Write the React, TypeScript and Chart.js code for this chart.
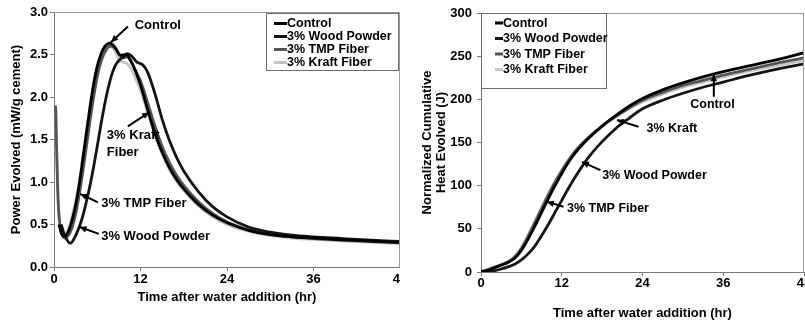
import React, { useEffect, useRef } from "react";
import { Chart, registerables } from "chart.js";
Chart.register(...registerables);

const SERIES_NAMES = ["Control", "3% Wood Powder", "3% TMP Fiber", "3% Kraft Fiber"];
const SERIES_COLORS = ["#000000", "#141414", "#555555", "#c6c6c6"];
const X_TICKS = [0, 12, 24, 36, 48];
const POWER_TICKS = [0, 0.5, 1.0, 1.5, 2.0, 2.5, 3.0];
const HEAT_TICKS = [0, 50, 100, 150, 200, 250, 300];

// Left chart: power evolved (mW/g cement) vs time (hr), [t, value] pairs
const powerControl: [number, number][] = [[0.7,0.5],[1.0,0.4],[1.4,0.36],[2.0,0.42],[2.5,0.55],[3.0,0.73],[3.5,0.97],[4.0,1.27],[4.5,1.58],[5.0,1.88],[5.5,2.15],[6.0,2.36],[6.5,2.5],[7.0,2.59],[7.8,2.635],[8.5,2.58],[9.2,2.49],[10.0,2.5],[10.7,2.42],[11.5,2.26],[12.0,2.14],[13.0,1.85],[14.0,1.57],[15.0,1.35],[16.0,1.17],[17.0,1.03],[18.0,0.92],[20.0,0.74],[22.0,0.61],[24.0,0.52],[27.0,0.43],[30.0,0.38],[33.0,0.355],[36.0,0.34],[40.0,0.32],[44.0,0.305],[48.0,0.29]];
const powerWood: [number, number][] = [[1.0,0.5],[1.5,0.37],[2.3,0.28],[3.0,0.37],[3.5,0.47],[4.0,0.6],[4.5,0.77],[5.0,0.96],[5.5,1.18],[6.0,1.42],[6.5,1.67],[7.0,1.9],[7.5,2.1],[8.0,2.26],[8.5,2.37],[9.0,2.43],[9.6,2.47],[10.2,2.51],[10.8,2.48],[11.5,2.41],[12.3,2.38],[13.0,2.29],[14.0,2.04],[15.0,1.74],[16.0,1.49],[17.0,1.29],[18.0,1.13],[20.0,0.89],[22.0,0.71],[24.0,0.59],[27.0,0.47],[30.0,0.41],[33.0,0.375],[36.0,0.355],[40.0,0.335],[44.0,0.315],[48.0,0.3]];
const powerTMP: [number, number][] = [[0.15,1.9],[0.25,1.85],[0.35,1.45],[0.5,0.95],[0.7,0.6],[1.0,0.42],[1.5,0.34],[2.0,0.37],[2.5,0.46],[3.0,0.62],[3.5,0.85],[4.0,1.12],[4.5,1.42],[5.0,1.72],[5.5,2.0],[6.0,2.24],[6.5,2.41],[7.0,2.52],[7.8,2.6],[8.4,2.58],[9.0,2.51],[9.6,2.46],[10.2,2.47],[10.8,2.4],[11.5,2.28],[12.0,2.19],[13.0,1.93],[14.0,1.66],[15.0,1.42],[16.0,1.23],[17.0,1.08],[18.0,0.96],[20.0,0.77],[22.0,0.63],[24.0,0.53],[27.0,0.44],[30.0,0.385],[33.0,0.355],[36.0,0.335],[40.0,0.315],[44.0,0.3],[48.0,0.285]];
const powerKraft: [number, number][] = [[0.3,1.55],[0.45,1.1],[0.6,0.72],[0.8,0.5],[1.1,0.4],[1.4,0.37],[2.0,0.45],[2.5,0.6],[3.0,0.77],[3.5,1.0],[4.0,1.3],[4.5,1.6],[5.0,1.9],[5.5,2.17],[6.0,2.37],[6.5,2.49],[7.0,2.56],[7.7,2.6],[8.4,2.55],[9.2,2.42],[10.0,2.4],[10.7,2.33],[11.5,2.18],[12.0,2.08],[13.0,1.81],[14.0,1.55],[15.0,1.33],[16.0,1.15],[17.0,1.01],[18.0,0.9],[20.0,0.72],[22.0,0.59],[24.0,0.5],[27.0,0.42],[30.0,0.37],[33.0,0.34],[36.0,0.325],[40.0,0.305],[44.0,0.29],[48.0,0.275]];

// Right chart: normalized cumulative heat (J) vs time (hr)
const heatTimes = [0,1,2,3,4,5,6,7,8,9,10,11,12,13,14,16,18,20,22,24,27,30,33,36,40,44,48];
const heatControl = [0,2,5,8,11,16,25,38,53,69,85,100,114,127,138,155,169,181,192,201,211,219,226,232,239,246,254];
const heatWood = [0,0.5,1.5,3.5,6,9,14,21,30,42,55,69,83,97,110,133,151,166,178,189,199,207,214,220,228,235,241];
const heatTMP = [0,2.5,5.5,8,11.5,17,27,41,57,73,89,104,117,129,140,156,169,180,190,199,208,216,222,228,235,242,248];
const heatKraft = [0,3,6,8.5,12,18,29,43,59,75,91,105,118,130,140,156,169,180,189,197,206,214,220,226,233,239,245];

// Annotation labels (data coordinates): text, anchor, alignment, arrow from -> to
const powerNotes = [
  { lines: ["Control"], at: [11.2, 2.84], align: "left", from: [10.25, 2.83], to: [7.9, 2.645] },
  { lines: ["3% Kraft", "Fiber"], at: [7.33, 1.545], align: "left", from: [10.25, 1.654], to: [13.2, 1.82] },
  { lines: ["3% TMP Fiber"], at: [6.55, 0.753], align: "left", from: [6.1, 0.76], to: [3.64, 0.86] },
  { lines: ["3% Wood Powder"], at: [6.55, 0.36], align: "left", from: [6.22, 0.39], to: [3.54, 0.47] },
];
const heatNotes = [
  { lines: ["Control"], at: [34.4, 193.5], align: "center", from: [34.6, 203], to: [34.6, 229] },
  { lines: ["3% Kraft"], at: [24.6, 166.5], align: "left", from: [23.4, 168.3], to: [20.2, 176] },
  { lines: ["3% Wood Powder"], at: [18.0, 112.3], align: "left", from: [17.74, 118.1], to: [15.0, 127.5] },
  { lines: ["3% TMP Fiber"], at: [12.78, 73.6], align: "left", from: [12.27, 75.5], to: [9.79, 81.3] },
];

const FONT = "'Liberation Sans', Arial, sans-serif";

function arrow(ctx: CanvasRenderingContext2D, x1: number, y1: number, x2: number, y2: number) {
  ctx.beginPath();
  ctx.moveTo(x1, y1);
  ctx.lineTo(x2, y2);
  ctx.stroke();
  const a = Math.atan2(y2 - y1, x2 - x1);
  const L = 7, W = 3.2;
  ctx.beginPath();
  ctx.moveTo(x2, y2);
  ctx.lineTo(x2 - L * Math.cos(a) + W * Math.sin(a), y2 - L * Math.sin(a) - W * Math.cos(a));
  ctx.lineTo(x2 - L * Math.cos(a) - W * Math.sin(a), y2 - L * Math.sin(a) + W * Math.cos(a));
  ctx.closePath();
  ctx.fill();
}

const decorPlugin = {
  id: "decor",
  afterDatasetsDraw(chart: any, _args: any, opts: any) {
    const { ctx, chartArea: a, scales } = chart;
    const xs = scales.x, ys = scales.y;
    ctx.save();
    // plot frame top/right
    ctx.strokeStyle = "#9a9a9a";
    ctx.lineWidth = 1;
    ctx.beginPath();
    ctx.moveTo(a.left, a.top + 0.5);
    ctx.lineTo(a.right - 0.5, a.top + 0.5);
    ctx.lineTo(a.right - 0.5, a.bottom);
    ctx.stroke();

    // annotations
    ctx.font = opts.noteFont;
    ctx.fillStyle = "#000";
    ctx.strokeStyle = "#000";
    ctx.lineWidth = 2;
    ctx.textBaseline = "middle";
    for (const n of opts.notes) {
      ctx.textAlign = n.align;
      const px = xs.getPixelForValue(n.at[0]);
      const py = ys.getPixelForValue(n.at[1]);
      n.lines.forEach((t: string, i: number) => ctx.fillText(t, px, py + i * opts.noteLine));
      arrow(ctx, xs.getPixelForValue(n.from[0]), ys.getPixelForValue(n.from[1]),
        xs.getPixelForValue(n.to[0]), ys.getPixelForValue(n.to[1]));
    }

    // legend
    const L = opts.legend;
    ctx.fillStyle = "#fff";
    ctx.fillRect(L.x, L.y, L.w, L.h);
    ctx.strokeStyle = "#6e6e6e";
    ctx.lineWidth = 1;
    ctx.strokeRect(L.x + 0.5, L.y + 0.5, L.w, L.h);
    ctx.font = opts.legendFont;
    ctx.textAlign = "left";
    ctx.textBaseline = "middle";
    chart.data.datasets.forEach((ds: any, i: number) => {
      const yy = L.y + L.first + i * L.step;
      ctx.strokeStyle = ds.borderColor;
      ctx.lineWidth = 3;
      ctx.beginPath();
      ctx.moveTo(L.x + L.lineX0, yy);
      ctx.lineTo(L.x + L.lineX1, yy);
      ctx.stroke();
      ctx.fillStyle = "#000";
      ctx.fillText(ds.label, L.x + L.textX, yy + 0.5);
    });
    ctx.restore();
  },
};

function makeScales(cfg: any) {
  return {
    x: {
      type: "linear",
      min: 0,
      max: 48,
      afterBuildTicks: (s: any) => { s.ticks = X_TICKS.map((v) => ({ value: v })); },
      ticks: { color: "#000", font: { family: FONT, size: cfg.tickSize, weight: "bold" }, padding: cfg.xTickPad, maxRotation: 0 },
      grid: { display: true, drawOnChartArea: false, drawTicks: true, tickLength: 4, color: "#7a7a7a" },
      border: { display: true, color: "#7a7a7a", width: 1 },
      title: { display: true, text: "Time after water addition (hr)", color: "#000", font: { family: FONT, size: cfg.titleSize, weight: "bold" }, padding: { top: 0, bottom: cfg.xTitlePad } },
      afterFit: (s: any) => { s.height = cfg.xHeight; s.paddingLeft = 0; s.paddingRight = 0; },
    },
    y: {
      type: "linear",
      min: cfg.yTicks[0],
      max: cfg.yTicks[cfg.yTicks.length - 1],
      afterBuildTicks: (s: any) => { s.ticks = cfg.yTicks.map((v: number) => ({ value: v })); },
      ticks: { color: "#000", font: { family: FONT, size: cfg.tickSize, weight: "bold" }, padding: cfg.yTickPad, callback: cfg.yFormat },
      grid: { display: true, drawOnChartArea: false, drawTicks: true, tickLength: 4, color: "#7a7a7a" },
      border: { display: true, color: "#7a7a7a", width: 1 },
      title: { display: true, text: cfg.yTitle, color: "#000", font: { family: FONT, size: cfg.titleSize, weight: "bold", lineHeight: cfg.yTitleLH }, padding: { top: cfg.yTitlePad, bottom: 0 } },
      afterFit: (s: any) => { s.width = cfg.yWidth; s.paddingTop = 0; s.paddingBottom = 0; },
    },
  };
}

function lineDs(label: string, color: string, data: any[]) {
  return {
    label,
    data,
    borderColor: color,
    backgroundColor: color,
    borderWidth: 2.8,
    pointRadius: 0,
    fill: false,
    cubicInterpolationMode: "monotone",
  };
}

export default function App() {
  const leftRef = useRef<HTMLCanvasElement>(null);
  const rightRef = useRef<HTMLCanvasElement>(null);

  useEffect(() => {
    const toXY = (arr: [number, number][]) => arr.map(([x, y]) => ({ x, y }));
    const powerSets = [powerControl, powerWood, powerTMP, powerKraft];
    const left = new Chart(leftRef.current!, {
      type: "line",
      data: {
        datasets: SERIES_NAMES.map((n, i) => lineDs(n, SERIES_COLORS[i], toXY(powerSets[i]))),
      },
      options: {
        responsive: false,
        animation: false,
        devicePixelRatio: 1,
        layout: { padding: { top: 12, left: 0, right: 0, bottom: 0 } },
        scales: makeScales({
          tickSize: 13, titleSize: 13, xTickPad: 1, yTickPad: 2, xHeight: 54, yWidth: 54,
          xTitlePad: 16, yTitlePad: 9, yTitleLH: 1.2,
          yTicks: POWER_TICKS, yFormat: (v: number) => Number(v).toFixed(1),
          yTitle: "Power Evolved (mW/g cement)",
        }) as any,
        plugins: {
          legend: { display: false },
          tooltip: { enabled: false },
          decor: {
            notes: powerNotes,
            noteFont: `bold 13px ${FONT}`,
            noteLine: 17,
            legendFont: `bold 12.5px ${FONT}`,
            legend: { x: 266, y: 13, w: 132, h: 57, first: 10.5, step: 13, lineX0: 8, lineX1: 21, textX: 21 },
          },
        } as any,
      },
      plugins: [decorPlugin],
    } as any);

    const heatSets = [heatControl, heatWood, heatTMP, heatKraft];
    const right = new Chart(rightRef.current!, {
      type: "line",
      data: {
        datasets: SERIES_NAMES.map((n, i) => lineDs(n, SERIES_COLORS[i], heatTimes.map((t, k) => ({ x: t, y: heatSets[i][k] })))),
      },
      options: {
        responsive: false,
        animation: false,
        devicePixelRatio: 1,
        layout: { padding: { top: 13, left: 0, right: 6, bottom: 0 } },
        scales: makeScales({
          tickSize: 13, titleSize: 13, xTickPad: 0, yTickPad: 5, xHeight: 49, yWidth: 81,
          xTitlePad: 0, yTitlePad: 20, yTitleLH: 1.1,
          yTicks: HEAT_TICKS, yFormat: (v: number) => String(v),
          yTitle: ["Normalized Cumulative", "Heat Evolved (J)"],
        }) as any,
        plugins: {
          legend: { display: false },
          tooltip: { enabled: false },
          decor: {
            notes: heatNotes,
            noteFont: `bold 12.5px ${FONT}`,
            noteLine: 16,
            legendFont: `bold 12.5px ${FONT}`,
            legend: { x: 81, y: 13, w: 125, h: 75, first: 10, step: 15.5, lineX0: 14, lineX1: 22, textX: 22 },
          },
        } as any,
      },
      plugins: [decorPlugin],
    } as any);

    return () => { left.destroy(); right.destroy(); };
  }, []);

  return (
    <div style={{ position: "absolute", left: 0, top: 0, width: 805, height: 321, background: "#fff", overflow: "hidden" }}>
      <canvas ref={leftRef} width={400} height={321} style={{ position: "absolute", left: 0, top: 0, width: 400, height: 321 }} />
      <canvas ref={rightRef} width={410} height={321} style={{ position: "absolute", left: 400, top: 0, width: 410, height: 321 }} />
    </div>
  );
}
